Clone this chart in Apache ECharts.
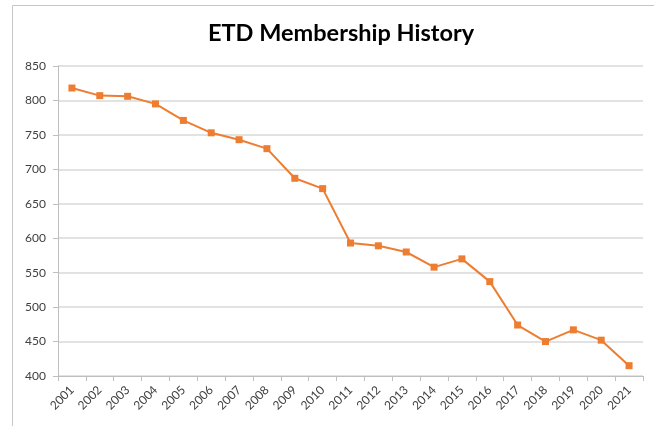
<!DOCTYPE html>
<html>
<head>
<meta charset="utf-8">
<script src="https://cdn.jsdelivr.net/npm/echarts@6/dist/echarts.min.js"></script>
<style>html,body{margin:0;padding:0;background:#fff}#c{width:654px;height:426px}</style>
</head>
<body>
<div id="c"></div>
<script>
var titleText = 'ETD Membership History';
var years = ['2001','2002','2003','2004','2005','2006','2007','2008','2009','2010','2011','2012','2013','2014','2015','2016','2017','2018','2019','2020','2021'];
var members = [818, 807, 806, 795, 771, 753, 743, 730, 687, 672, 593, 589, 580, 558, 570, 537, 474, 450, 467, 452, 415];
var yTicks = { min: 400, max: 850, interval: 50 };

var chart = echarts.init(document.getElementById('c'), null, { renderer: 'canvas' });
chart.setOption({
  animation: false,
  backgroundColor: '#ffffff',
  title: {
    text: titleText,
    left: 203,
    top: 16,
    textStyle: { fontFamily: 'Lato', fontWeight: 'bold', fontSize: 23.5, color: '#000000' }
  },
  graphic: [{
    type: 'rect',
    shape: { x: 12.5, y: 5.5, width: 700, height: 500 },
    style: { fill: 'none', stroke: '#c6c6c6', lineWidth: 1 },
    silent: true, z: -1
  }],
  grid: { left: 58, right: 11, top: 66, bottom: 50, containLabel: false },
  xAxis: {
    type: 'category',
    data: years,
    boundaryGap: true,
    axisLine: { lineStyle: { color: '#bfbfbf', width: 1 } },
    axisTick: { show: true, length: 5, lineStyle: { color: '#bfbfbf' } },
    axisLabel: { rotate: 45, interval: 0, margin: 12, fontFamily: 'Lato', fontSize: 12, color: '#404040' },
    splitLine: { show: false }
  },
  yAxis: {
    type: 'value',
    min: yTicks.min, max: yTicks.max, interval: yTicks.interval,
    axisLine: { show: true, lineStyle: { color: '#bfbfbf', width: 1 } },
    axisTick: { show: true, length: 5, lineStyle: { color: '#bfbfbf' } },
    axisLabel: { margin: 12, fontFamily: 'Lato', fontSize: 12, color: '#404040' },
    splitLine: { show: true, lineStyle: { color: '#d9d9d9', width: 1.5 } }
  },
  series: [{
    type: 'line',
    data: members,
    symbol: 'rect',
    symbolSize: 7,
    lineStyle: { color: '#ED7D31', width: 2 },
    itemStyle: { color: '#ED7D31' }
  }]
});
</script>
</body>
</html>
